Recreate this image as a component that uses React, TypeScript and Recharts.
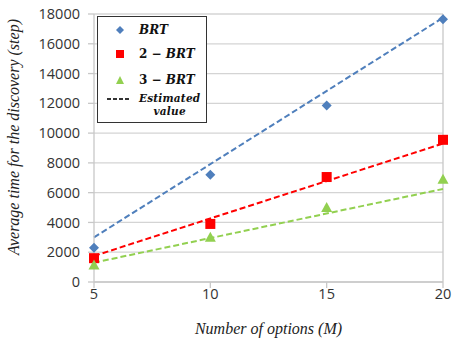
import React from "react";
import {
  ComposedChart, Line, Scatter, XAxis, YAxis, CartesianGrid, ReferenceLine,
} from "recharts";

const OPTIONS = [5, 10, 15, 20];
const BRT = [2300, 7200, 11850, 17650];
const BRT2 = [1600, 3900, 7050, 9550];
const BRT3 = [1150, 3000, 5000, 6900];

// estimated value lines (two ends)
const EST_X = [5, 20];
const BRT_EST = [3000, 17750];
const BRT2_EST = [1750, 9300];
const BRT3_EST = [1300, 6250];

const Y_TICKS = [0, 2000, 4000, 6000, 8000, 10000, 12000, 14000, 16000, 18000];

const BLUE = "#4F7FBC";
const RED = "#FF0000";
const GREEN = "#92D050";

const pts = (ys: number[]) => OPTIONS.map((x, i) => ({ x, y: ys[i] }));
const est = (ys: number[]) => EST_X.map((x, i) => ({ x, y: ys[i] }));

const Diamond = (p: any) => (
  <path d={`M${p.cx},${p.cy - 5}L${p.cx + 5},${p.cy}L${p.cx},${p.cy + 5}L${p.cx - 5},${p.cy}Z`} fill={BLUE} />
);
const Square = (p: any) => <rect x={p.cx - 5} y={p.cy - 5} width={10} height={10} fill={RED} />;
const Triangle = (p: any) => (
  <path d={`M${p.cx},${p.cy - 5.5}L${p.cx + 5.5},${p.cy + 4.5}L${p.cx - 5.5},${p.cy + 4.5}Z`} fill={GREEN} />
);

const serif = "'Liberation Serif', 'DejaVu Serif', serif";
const legendFont = "'DejaVu Serif', serif";

function LegendBox() {
  const txt = { position: "absolute", left: 41, fontFamily: legendFont, fontWeight: 700, fontSize: 12, color: "#111", lineHeight: "14px", whiteSpace: "nowrap" } as const;
  const mk = { position: "absolute", left: 17 } as const;
  return (
    <div style={{ position: "absolute", left: 97, top: 16, border: "1.5px solid #333", background: "#fff", width: 110, height: 107, boxSizing: "border-box" }}>
      <svg style={{ ...mk, top: 8 }} width={10} height={10}><path d="M5,1L9,5L5,9L1,5Z" fill={BLUE} /></svg>
      <span style={{ ...txt, top: 6, fontStyle: "italic" }}>BRT</span>
      <svg style={{ ...mk, top: 32 }} width={10} height={10}><rect x={1} y={1} width={8} height={8} fill={RED} /></svg>
      <span style={{ ...txt, top: 30 }}>2 − <i>BRT</i></span>
      <svg style={{ ...mk, top: 58 }} width={10} height={10}><path d="M5,1L9,9L1,9Z" fill={GREEN} /></svg>
      <span style={{ ...txt, top: 56 }}>3 − <i>BRT</i></span>
      <svg style={{ position: "absolute", left: 9, top: 80 }} width={24} height={4}>
        <line x1={0} y1={2} x2={24} y2={2} stroke="#333" strokeWidth={2} strokeDasharray="4 2" />
      </svg>
      <span style={{ ...txt, top: 75, fontStyle: "italic", fontSize: 10.5, textAlign: "center", lineHeight: "13px", letterSpacing: 0.2 }}>
        Estimated<br />value
      </span>
    </div>
  );
}

const tickStyle = { fontFamily: "'Open Sans', sans-serif", fontSize: 14.5, fill: "#333" };

export default function App() {
  return (
    <div style={{ position: "absolute", left: 0, top: 0, width: 452, height: 340, background: "#fff" }}>
      <ComposedChart width={452} height={340} margin={{ top: 14, right: 9, bottom: 0, left: 0 }}>
        <CartesianGrid vertical={false} stroke="#D4D4D4" strokeWidth={1.3} />
        <XAxis
          type="number"
          dataKey="x"
          domain={[5, 20]}
          ticks={OPTIONS}
          interval={0}
          height={58}
          tick={tickStyle}
          tickSize={6}
          tickMargin={1}
          stroke="#C8C8C8"
          strokeWidth={1.3}
          allowDuplicatedCategory={false}
          label={{ value: "Number of options (M)", position: "insideBottom", offset: 6, style: { fontFamily: serif, fontStyle: "italic", fontSize: 16, fill: "#222" } }}
        />
        <YAxis
          type="number"
          domain={[0, 18000]}
          ticks={Y_TICKS}
          interval={0}
          width={94}
          tick={tickStyle}
          tickSize={6}
          tickMargin={8}
          stroke="#C8C8C8"
          strokeWidth={1.3}
          label={{
            content: () => (
              <text x={13} y={137} transform="rotate(-90 13 137)" textAnchor="middle" dominantBaseline="central"
                style={{ fontFamily: serif, fontStyle: "italic", fontSize: 16, fill: "#222" }}>
                Average time for the discovery (step)
              </text>
            ),
          }}
        />
        <ReferenceLine x={20} stroke="#C8C8C8" strokeWidth={1.3} />
        <Line data={est(BRT_EST)} dataKey="y" stroke={BLUE} strokeWidth={2} strokeDasharray="6 3" dot={false} isAnimationActive={false} />
        <Line data={est(BRT2_EST)} dataKey="y" stroke={RED} strokeWidth={2} strokeDasharray="6 3" dot={false} isAnimationActive={false} />
        <Line data={est(BRT3_EST)} dataKey="y" stroke={GREEN} strokeWidth={2} strokeDasharray="6 3" dot={false} isAnimationActive={false} />
        <Scatter data={pts(BRT)} dataKey="y" shape={Diamond} isAnimationActive={false} />
        <Scatter data={pts(BRT2)} dataKey="y" shape={Square} isAnimationActive={false} />
        <Scatter data={pts(BRT3)} dataKey="y" shape={Triangle} isAnimationActive={false} />
      </ComposedChart>
      <LegendBox />
    </div>
  );
}
